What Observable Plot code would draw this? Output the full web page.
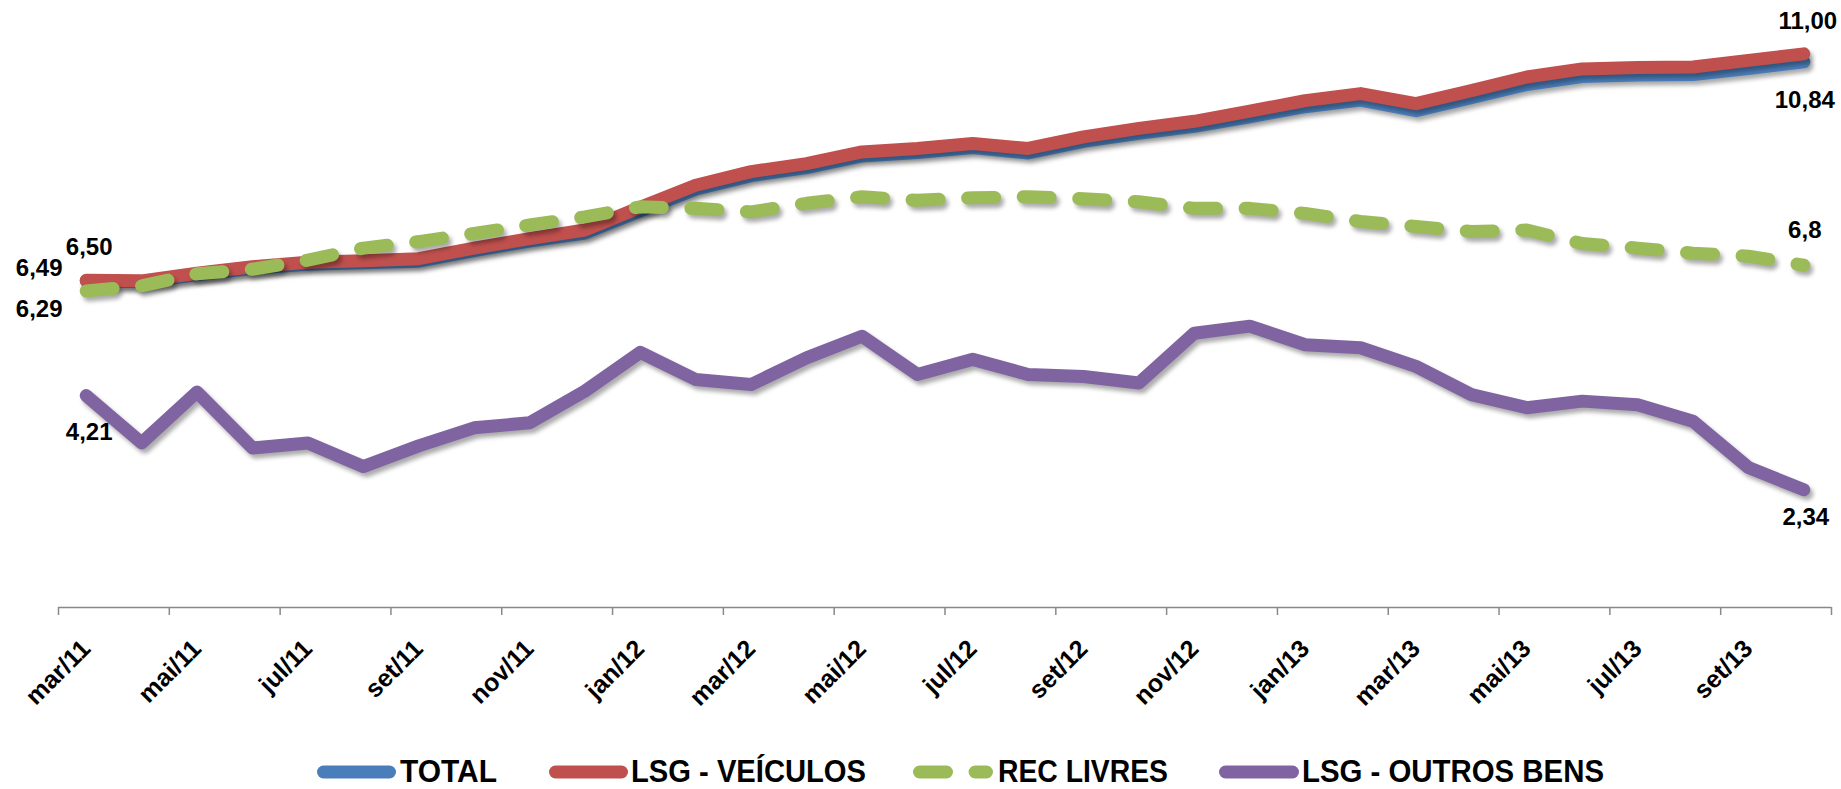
<!DOCTYPE html>
<html>
<head>
<meta charset="utf-8">
<script src="https://cdn.jsdelivr.net/npm/d3@7"></script>
<script src="https://cdn.jsdelivr.net/npm/@observablehq/plot@0.6"></script>
<style>
  body { margin: 0; background: #fff; }
  #chart svg { display: block; }
  #chart g[aria-label="line"] { filter: drop-shadow(3px 4px 2px rgba(0,0,0,0.33)); }
</style>
</head>
<body>
<div id="chart"></div>
<script>
// ---- data ----
const months = ["mar/11","abr/11","mai/11","jun/11","jul/11","ago/11","set/11","out/11","nov/11","dez/11",
  "jan/12","fev/12","mar/12","abr/12","mai/12","jun/12","jul/12","ago/12","set/12","out/12","nov/12","dez/12",
  "jan/13","fev/13","mar/13","abr/13","mai/13","jun/13","jul/13","ago/13","set/13","out/13"];

const total = [6.49, 6.47, 6.61, 6.74, 6.82, 6.85, 6.88, 7.09, 7.28, 7.44, 7.88, 8.31, 8.58, 8.74, 8.97, 9.04,
  9.14, 9.03, 9.26, 9.42, 9.56, 9.75, 9.95, 10.08, 9.87, 10.13, 10.39, 10.55, 10.58, 10.59, 10.71, 10.84];

const veiculos = [6.50, 6.49, 6.64, 6.77, 6.86, 6.89, 6.93, 7.14, 7.33, 7.50, 7.95, 8.39, 8.66, 8.82, 9.05, 9.12,
  9.22, 9.12, 9.35, 9.52, 9.66, 9.86, 10.07, 10.21, 10.01, 10.27, 10.54, 10.70, 10.73, 10.74, 10.87, 11.00];

const recLivres = [6.29, 6.39, 6.63, 6.72, 6.90, 7.14, 7.27, 7.43, 7.60, 7.76, 7.96, 7.93, 7.86, 8.03, 8.16, 8.09,
  8.14, 8.16, 8.12, 8.06, 7.93, 7.93, 7.83, 7.67, 7.57, 7.47, 7.50, 7.23, 7.14, 7.04, 6.98, 6.8];

const outrosBens = [4.21, 3.27, 4.28, 3.17, 3.27, 2.80, 3.21, 3.57, 3.67, 4.30, 5.07, 4.53, 4.43, 4.96, 5.39, 4.63,
  4.93, 4.63, 4.59, 4.46, 5.45, 5.59, 5.22, 5.16, 4.79, 4.23, 3.97, 4.10, 4.03, 3.70, 2.78, 2.34];

const seriesNames = ["TOTAL", "LSG - VEÍCULOS", "REC LIVRES", "LSG - OUTROS BENS"];
const seriesColors = ["#4A7EBB", "#C0504D", "#9BBB59", "#8064A2"];
const labelTicks = d3.range(0, months.length, 2);           // mar/11, mai/11, ...
const boundaryTicks = d3.range(-0.5, months.length + 0.5, 2); // tick marks between categories

// ---- tables for the library ----
const rows = (arr) => arr.map((v, i) => ({i, v}));
const fmt2 = v => d3.format(".2f")(v).replace(".", ",");
const fmt1 = v => d3.format(".1f")(v).replace(".", ",");
const last = months.length - 1;

const FONT = "'Liberation Sans', Arial, sans-serif";
const DASH = "27,28.6";
const lineOpts = {x: "i", y: "v", strokeWidth: 13, strokeLinecap: "round", strokeLinejoin: "round"};
const lbl = (arr, idx, fmt, dx, dy) => Plot.text([{i: idx, v: arr[idx]}], {
  x: "i", y: "v", text: d => fmt(d.v), dx, dy,
  fontSize: 24, fontWeight: "bold", fill: "#000", fontFamily: FONT
});

const chart = Plot.plot({
  width: 1841,
  height: 750,
  marginLeft: 58,
  marginRight: 10,
  marginTop: 3,
  marginBottom: 143,
  x: {type: "linear", domain: [-0.5, months.length - 0.5], axis: null},
  y: {domain: [0, 12], axis: null},
  style: {fontFamily: FONT, background: "#fff"},
  marks: [
    Plot.ruleY([0], {stroke: "#898989", strokeWidth: 1.5}),
    Plot.axisX(boundaryTicks, {tickSize: 8, tickFormat: () => "", label: null, stroke: "#898989", strokeWidth: 1.5}),
    Plot.axisX(labelTicks, {
      tickSize: 0, tickPadding: 0, tickRotate: -45, textAnchor: "end", lineAnchor: "middle", label: null,
      dy: 37, tickFormat: i => months[i], fontSize: 25, fontWeight: "bold", fill: "#000", fontFamily: FONT
    }),
    Plot.line(rows(total), {...lineOpts, stroke: seriesColors[0]}),
    Plot.line(rows(veiculos), {...lineOpts, stroke: seriesColors[1]}),
    Plot.line(rows(recLivres), {...lineOpts, stroke: seriesColors[2], strokeDasharray: DASH}),
    Plot.line(rows(outrosBens), {...lineOpts, stroke: seriesColors[3]}),
    lbl(veiculos, 0, fmt2, 3, -33),
    lbl(total, 0, fmt2, -47, -13),
    lbl(recLivres, 0, fmt2, -47, 18),
    lbl(outrosBens, 0, fmt2, 3, 37),
    lbl(veiculos, last, fmt2, 4, -33),
    lbl(total, last, fmt2, 1, 38),
    lbl(recLivres, last, fmt1, 1, -35),
    lbl(outrosBens, last, fmt2, 2, 28)
  ]
});
document.getElementById("chart").appendChild(chart);

// ---- legend below the chart ----
// [swatch start, swatch end, text start, text width]
const legendPos = [[317, 396, 400, 97], [549, 628, 631, 235], [913, 993, 998, 170], [1219, 1299, 1302, 302]];
const legend = d3.create("svg").attr("width", 1841).attr("height", 39).style("display", "block");
seriesNames.forEach((name, k) => {
  const [x1, x2, tx, tw] = legendPos[k];
  legend.append("line")
    .attr("x1", x1 + 6.5).attr("x2", x2 - 6.5).attr("y1", 22).attr("y2", 22)
    .attr("stroke", seriesColors[k]).attr("stroke-width", 13).attr("stroke-linecap", "round")
    .attr("stroke-dasharray", k === 2 ? DASH : null);
  legend.append("text")
    .attr("x", tx).attr("y", 32)
    .attr("font-family", FONT)
    .attr("font-weight", "bold").attr("font-size", 31).attr("fill", "#000")
    .attr("textLength", tw).attr("lengthAdjust", "spacingAndGlyphs")
    .text(name);
});
document.getElementById("chart").appendChild(legend.node());
</script>
</body>
</html>
